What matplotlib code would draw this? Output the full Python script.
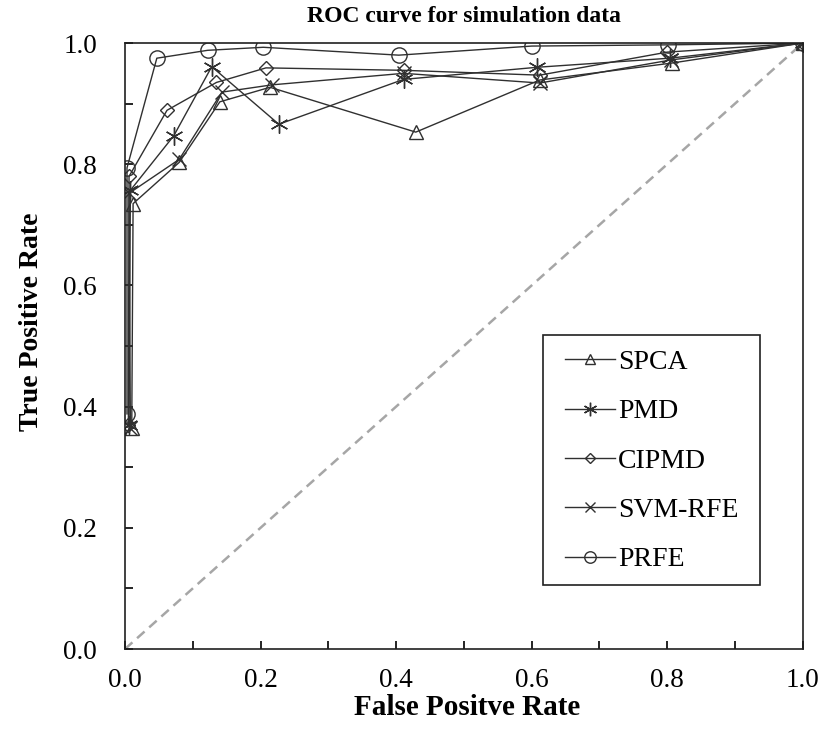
import matplotlib
matplotlib.use("Agg")
import matplotlib.pyplot as plt
from matplotlib.patches import Rectangle
from matplotlib.ticker import MultipleLocator, FormatStrFormatter

plt.rcParams['font.family'] = ['Liberation Serif', 'DejaVu Serif']

spca_fpr = [0.010, 0.012, 0.080, 0.140, 0.214, 0.429, 0.612, 0.807, 1.0]
spca_tpr = [0.365, 0.735, 0.803, 0.903, 0.927, 0.853, 0.939, 0.967, 1.0]
pmd_fpr = [0.006, 0.008, 0.072, 0.128, 0.227, 0.411, 0.608, 0.804, 1.0]
pmd_tpr = [0.370, 0.757, 0.847, 0.961, 0.866, 0.940, 0.960, 0.975, 1.0]
cipmd_fpr = [0.005, 0.006, 0.062, 0.135, 0.208, 0.411, 0.612, 0.800, 1.0]
cipmd_tpr = [0.370, 0.780, 0.889, 0.935, 0.959, 0.955, 0.947, 0.985, 1.0]
svm_fpr = [0.008, 0.006, 0.080, 0.143, 0.217, 0.411, 0.612, 0.805, 1.0]
svm_tpr = [0.365, 0.752, 0.808, 0.919, 0.931, 0.950, 0.934, 0.972, 1.0]
prfe_fpr = [0.003, 0.003, 0.047, 0.122, 0.204, 0.404, 0.600, 0.801, 1.0]
prfe_tpr = [0.388, 0.794, 0.975, 0.988, 0.993, 0.980, 0.995, 0.997, 1.0]

series = [
    ("SPCA", spca_fpr, spca_tpr, "^", 10),
    ("PMD", pmd_fpr, pmd_tpr, (6, 2, 0), 13),
    ("CIPMD", cipmd_fpr, cipmd_tpr, "D", 7),
    ("SVM-RFE", svm_fpr, svm_tpr, "x", 10),
    ("PRFE", prfe_fpr, prfe_tpr, "o", 11),
]

fig = plt.figure(figsize=(8.2, 7.42), dpi=100)
ax = fig.add_axes([0.1524, 0.1253, 0.979 - 0.1524, 0.942 - 0.1253])

ax.plot([0, 1], [0, 1], color="#a6a6a6", linestyle=(0, (4, 2.5)), linewidth=1.8, zorder=1)

for name, xs, ys, mk, ms in series:
    ax.plot(xs, ys, color="#303030", linewidth=1.0, marker=mk, markersize=ms,
            markerfacecolor="none", markeredgecolor="#303030", markeredgewidth=1.0,
            label=name, zorder=2)

ax.set_xlim(0, 1)
ax.set_ylim(0, 1)
ax.xaxis.set_major_locator(MultipleLocator(0.2))
ax.xaxis.set_minor_locator(MultipleLocator(0.1))
ax.yaxis.set_major_locator(MultipleLocator(0.2))
ax.yaxis.set_minor_locator(MultipleLocator(0.1))
ax.xaxis.set_major_formatter(FormatStrFormatter('%.1f'))
ax.yaxis.set_major_formatter(FormatStrFormatter('%.1f'))
ax.tick_params(which='both', direction='in', length=6, width=1.2, top=False, right=False)
ax.tick_params(which='major', labelsize=19.5)
ax.tick_params(axis='x', which='major', pad=14)
ax.tick_params(axis='y', which='major', pad=20)
for sp in ax.spines.values():
    sp.set_linewidth(1.2)
    sp.set_color("#202020")

ax.set_title("ROC curve for simulation data", fontsize=17, fontweight='bold', pad=15)
ax.set_xlabel("False Positve Rate", fontsize=21, fontweight='bold')
ax.xaxis.set_label_coords(0.505, -0.075)
ax.set_ylabel("True Positive Rate", fontsize=20, fontweight='bold')
ax.yaxis.set_label_coords(-0.119, 0.54)

# legend frame drawn as a separate box, legend entries without frame
ax.add_patch(Rectangle((0.6165, 0.1056), 0.320, 0.4125, transform=ax.transAxes,
                       facecolor="white", edgecolor="#202020", linewidth=1.2, zorder=3))
leg = ax.legend(loc='upper left', bbox_to_anchor=(0.649, 0.494), borderaxespad=0,
                fontsize=20, markerscale=0.75, frameon=False,
                labelspacing=0.86, handlelength=1.8, borderpad=0, handletextpad=0.12)
leg.set_zorder(4)

fig.savefig("out.png", dpi=100)
